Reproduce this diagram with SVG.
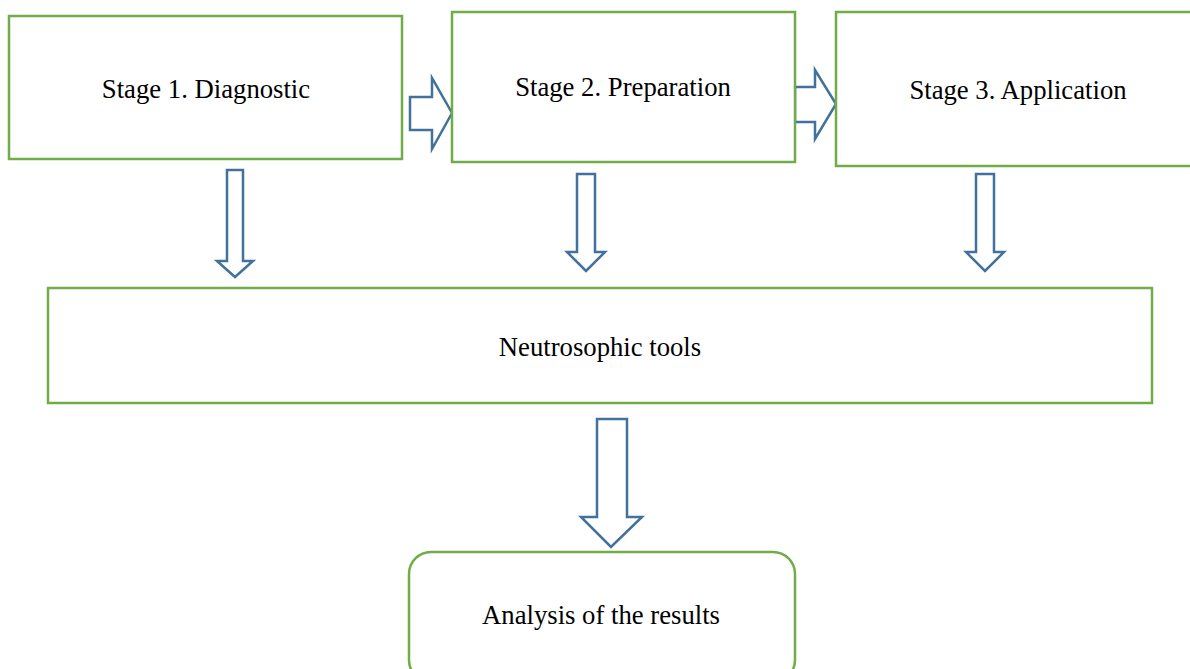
<svg xmlns="http://www.w3.org/2000/svg" width="1190" height="669" viewBox="0 0 1190 669">
<style>
.box{fill:#fff;stroke:#70AD47;stroke-width:2.5}
.arr{fill:#fff;stroke:#41719C;stroke-width:2.5;stroke-linejoin:miter}
.t{font-family:"Liberation Serif","Times New Roman",serif;font-size:26.7px;fill:#000;text-anchor:middle}
</style>
<rect width="1190" height="669" fill="#fff"/>
<g id="connectors">
<polygon class="arr" points="410,97 432,97 432,78 452,113 432,149 432,130 410,130"/>
<polygon class="arr" points="795,87 815,87 815,70 836,104 815,139 815,122 795,122"/>
<polygon class="arr" points="227,170 243,170 243,261 253,261 235,277 217,261 227,261"/>
<polygon class="arr" points="577,174 595,174 595,252 605,252 586,271 567,252 577,252"/>
<polygon class="arr" points="976,174 994,174 994,252 1004,252 985,271 966,252 976,252"/>
<polygon class="arr" points="597,419 627,419 627,517 642,517 611,547 581,517 597,517"/>
</g>
<g id="stage1">
<rect class="box" x="9" y="16" width="393" height="143"/>
<text class="t" x="206" y="98">Stage 1. Diagnostic</text>
</g>
<g id="stage2">
<rect class="box" x="452" y="12" width="343" height="150"/>
<text class="t" x="623" y="96">Stage 2. Preparation</text>
</g>
<g id="stage3">
<rect class="box" x="836" y="12" width="370" height="154"/>
<text class="t" x="1018" y="99">Stage 3. Application</text>
</g>
<g id="tools">
<rect class="box" x="48" y="288" width="1104" height="115"/>
<text class="t" x="600" y="356">Neutrosophic tools</text>
</g>
<g id="analysis">
<rect class="box" x="409" y="552" width="386" height="130" rx="22" ry="22"/>
<text class="t" x="601" y="624">Analysis of the results</text>
</g>
</svg>
